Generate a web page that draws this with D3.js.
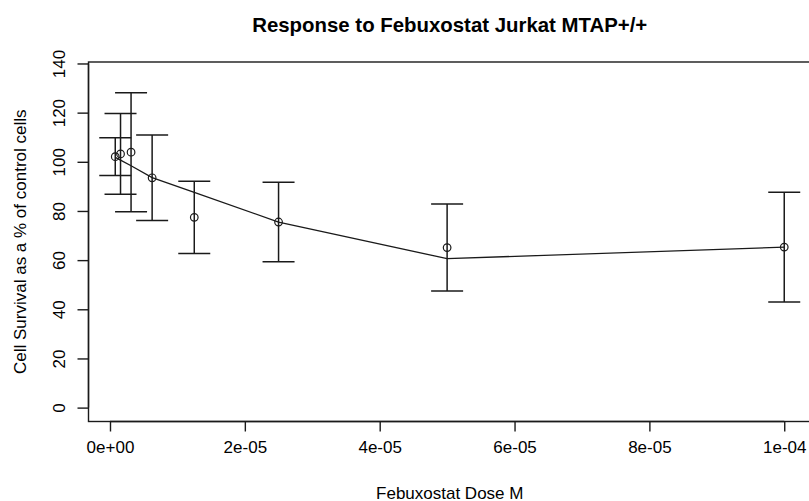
<!DOCTYPE html>
<html>
<head>
<meta charset="utf-8">
<script src="https://cdn.jsdelivr.net/npm/d3@7"></script>
<style>
  html, body { margin: 0; padding: 0; background: #fff; }
  text { font-family: "Liberation Sans", Arial, Helvetica, sans-serif; fill: #000; }
</style>
</head>
<body>
<svg id="chart" width="809" height="501"></svg>
<script>
// ---- data ----
const doses = [7.8125e-7, 1.5625e-6, 3.125e-6, 6.25e-6, 1.25e-5, 2.5e-5, 5e-5, 1e-4];
const survivalMean = [102.1, 103.2, 103.9, 93.5, 77.4, 75.5, 65.1, 65.3];
const survivalErr = [7.7, 16.4, 24.2, 17.4, 14.7, 16.2, 17.7, 22.3];
const fittedSurvival = [101.8, 100.7, 98.4, 93.6, 87.6, 75.5, 60.6, 65.3];
const xTicks = [0, 2e-5, 4e-5, 6e-5, 8e-5, 1e-4];
const xTickLabels = ["0e+00", "2e-05", "4e-05", "6e-05", "8e-05", "1e-04"];
const yTicks = [0, 20, 40, 60, 80, 100, 120, 140];
const titleText = "Response to Febuxostat Jurkat MTAP+/+";
const xLabelText = "Febuxostat Dose M";
const yLabelText = "Cell Survival as a % of control cells";

// ---- layout ----
const W = 809, H = 501;
const plot = { left: 88.5, right: 811, top: 62, bottom: 421.5 };
const ylim = [-5.65, 140.6];
const fs = 17;

const svg = d3.select("#chart");

// R-style 4% extension of x range
const xr = d3.extent(doses);
const xpad = 0.04 * (xr[1] - xr[0]);
const x = d3.scaleLinear().domain([xr[0] - xpad, xr[1] + xpad]).range([plot.left, plot.right]);
const y = d3.scaleLinear().domain(ylim).range([plot.bottom, plot.top]);

const ink = "#1a1a1a";

// box
svg.append("rect")
  .attr("x", plot.left).attr("y", plot.top)
  .attr("width", plot.right - plot.left).attr("height", plot.bottom - plot.top)
  .attr("fill", "none").attr("stroke", ink).attr("stroke-width", 1.4);

// x axis
const xAxis = d3.axisBottom(x).tickValues(xTicks)
  .tickFormat((d, i) => xTickLabels[i]).tickSize(10).tickPadding(9);
const gx = svg.append("g").attr("transform", `translate(0,${plot.bottom})`).call(xAxis);
gx.select(".domain").attr("d", `M${x(xTicks[0])},0H${x(xTicks[xTicks.length-1])}`).attr("stroke", ink).attr("stroke-width", 1.4);
gx.selectAll(".tick line").attr("stroke", ink).attr("stroke-width", 1.4);
gx.selectAll(".tick text").attr("font-size", fs).attr("font-family", "Liberation Sans, Arial, sans-serif").attr("fill", "#000");

// y axis
const yAxis = d3.axisLeft(y).tickValues(yTicks).tickSize(11).tickPadding(0);
const gy = svg.append("g").attr("transform", `translate(${plot.left},0)`).call(yAxis);
gy.select(".domain").attr("d", `M0,${y(yTicks[0])}V${y(yTicks[yTicks.length-1])}`).attr("stroke", ink).attr("stroke-width", 1.4);
gy.selectAll(".tick line").attr("stroke", ink).attr("stroke-width", 1.4);
gy.selectAll(".tick text")
  .attr("font-size", fs).attr("font-family", "Liberation Sans, Arial, sans-serif").attr("fill", "#000")
  .attr("x", null).attr("dy", null)
  .attr("text-anchor", "middle")
  .attr("transform", `translate(${65 - plot.left},0) rotate(-90)`);

// fitted line
const line = d3.line().x((d, i) => x(doses[i])).y(d => y(d));
svg.append("path").datum(fittedSurvival)
  .attr("d", line).attr("fill", "none").attr("stroke", ink).attr("stroke-width", 1.3);

// error bars
const cap = 16;
const eb = svg.append("g").attr("stroke", ink).attr("stroke-width", 1.5).attr("fill", "none");
doses.forEach((d, i) => {
  const cx = x(d), hi = y(survivalMean[i] + survivalErr[i]), lo = y(survivalMean[i] - survivalErr[i]);
  eb.append("line").attr("x1", cx).attr("x2", cx).attr("y1", hi).attr("y2", lo);
  eb.append("line").attr("x1", cx - cap).attr("x2", cx + cap).attr("y1", hi).attr("y2", hi);
  eb.append("line").attr("x1", cx - cap).attr("x2", cx + cap).attr("y1", lo).attr("y2", lo);
});

// points
svg.append("g").selectAll("circle").data(survivalMean).join("circle")
  .attr("cx", (d, i) => x(doses[i])).attr("cy", d => y(d)).attr("r", 3.8)
  .attr("fill", "none").attr("stroke", ink).attr("stroke-width", 1.2);

// title
svg.append("text").attr("x", (plot.left + plot.right) / 2).attr("y", 31.5)
  .attr("text-anchor", "middle").attr("font-weight", "bold").attr("font-size", fs * 1.2)
  .text(titleText);

// x label
svg.append("text").attr("x", (plot.left + plot.right) / 2).attr("y", 498.5)
  .attr("text-anchor", "middle").attr("font-size", fs).text(xLabelText);

// y label
svg.append("text").attr("transform", `translate(25.5,${(plot.top + plot.bottom) / 2}) rotate(-90)`)
  .attr("text-anchor", "middle").attr("font-size", fs).text(yLabelText);
</script>
</body>
</html>
